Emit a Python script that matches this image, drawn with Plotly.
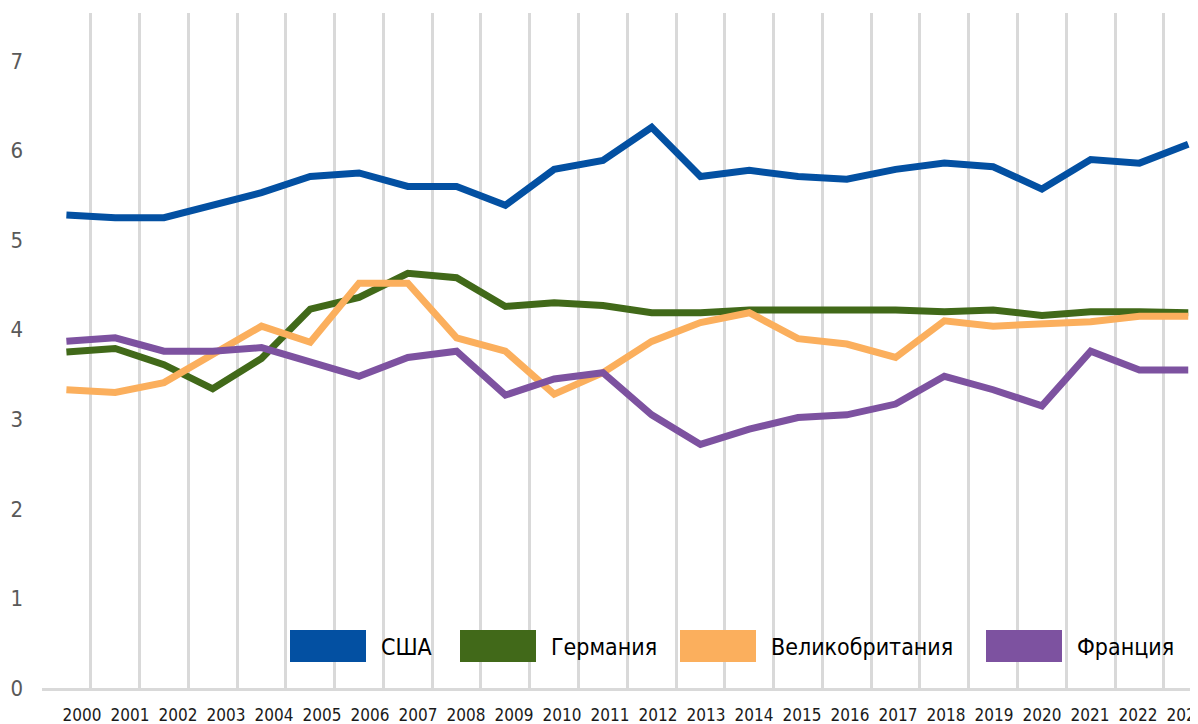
import plotly.graph_objects as go

# years on the x axis
years = [str(y) for y in range(2000, 2024)]

usa = [5.28, 5.25, 5.25, 5.39, 5.53, 5.71, 5.75, 5.60, 5.60, 5.39, 5.79, 5.89,
       6.26, 5.71, 5.78, 5.71, 5.68, 5.79, 5.86, 5.82, 5.57, 5.90, 5.86, 6.07]
germany = [3.75, 3.79, 3.61, 3.34, 3.68, 4.23, 4.36, 4.63, 4.58, 4.26, 4.30, 4.27,
           4.19, 4.19, 4.22, 4.22, 4.22, 4.22, 4.20, 4.22, 4.16, 4.20, 4.20, 4.19]
uk = [3.33, 3.30, 3.41, 3.72, 4.04, 3.86, 4.52, 4.52, 3.91, 3.76, 3.28, 3.52,
      3.87, 4.08, 4.19, 3.90, 3.84, 3.69, 4.10, 4.04, 4.06, 4.09, 4.15, 4.15]
france = [3.87, 3.91, 3.76, 3.76, 3.80, 3.65, 3.48, 3.69, 3.76, 3.27, 3.45, 3.52,
          3.05, 2.72, 2.89, 3.02, 3.05, 3.17, 3.48, 3.33, 3.15, 3.76, 3.55, 3.55]

names = ['США', 'Германия', 'Великобритания', 'Франция']
colors = ['#0350A2', '#416919', '#FBAF5D', '#7D52A0']
series = [usa, germany, uk, france]

# page body has an 8px margin, so the figure is a bit smaller than the window
OFF = 8
W, H = 1198 - OFF, 724 - OFF
L, R, T, B = 42 - OFF, 0, 13 - OFF, 36
FONT = 'Liberation Sans Narrow, DejaVu Sans Condensed, sans-serif'


# screen pixel -> paper coordinates
def px_x(x):
    return (x - OFF - L) / (W - L - R)


def px_y(y):
    return (H + OFF - B - y) / (H - T - B)


fig = go.Figure()

for name, vals, color in zip(names, series, colors):
    fig.add_trace(go.Scatter(x=years, y=vals, mode='lines', name=name,
                             line=dict(color=color, width=7), showlegend=False))

# empty trace that carries the year labels (they sit on a slightly tighter spacing)
fig.add_trace(go.Scatter(x=years, y=[None] * len(years), xaxis='x2', mode='lines',
                         showlegend=False, hoverinfo='skip'))

# hand made legend: wide colour blocks with labels
swatch_left = [290, 460, 680, 986]
for name, color, sx in zip(names, colors, swatch_left):
    fig.add_shape(type='rect', xref='paper', yref='paper',
                  x0=px_x(sx), x1=px_x(sx + 76), y0=px_y(662), y1=px_y(630),
                  fillcolor=color, line=dict(width=0))
    fig.add_annotation(xref='paper', yref='paper', x=px_x(sx + 89), y=px_y(647),
                       text=name, showarrow=False, xanchor='left', yanchor='middle',
                       font=dict(family=FONT, size=23, color='#000000'))

fig.update_layout(
    width=W, height=H,
    margin=dict(l=L, r=R, t=T, b=B, autoexpand=False),
    plot_bgcolor='white', paper_bgcolor='white',
    font=dict(family=FONT),
    xaxis=dict(
        type='category', range=[-0.5, 23.2], automargin=False,
        tickson='boundaries', showgrid=True, gridcolor='#D9D9D9', gridwidth=3,
        showline=True, linecolor='#D9D9D9', linewidth=3,
        ticks='', showticklabels=False,
    ),
    xaxis2=dict(
        type='category', overlaying='x', anchor='y', side='bottom', automargin=False,
        range=[-40 / 48, 1116 / 48],
        showgrid=False, zeroline=False, showline=False, ticks='', ticklabelstandoff=15,
        tickfont=dict(family=FONT, size=17, color='#1a1a1a'),
    ),
    yaxis=dict(
        range=[0, 7.536], dtick=1, showgrid=False, zeroline=False, showline=False,
        ticks='', ticklabelstandoff=18, automargin=False,
        tickfont=dict(family=FONT, size=22, color='#595959'),
    ),
)

fig.write_html('out.html')
